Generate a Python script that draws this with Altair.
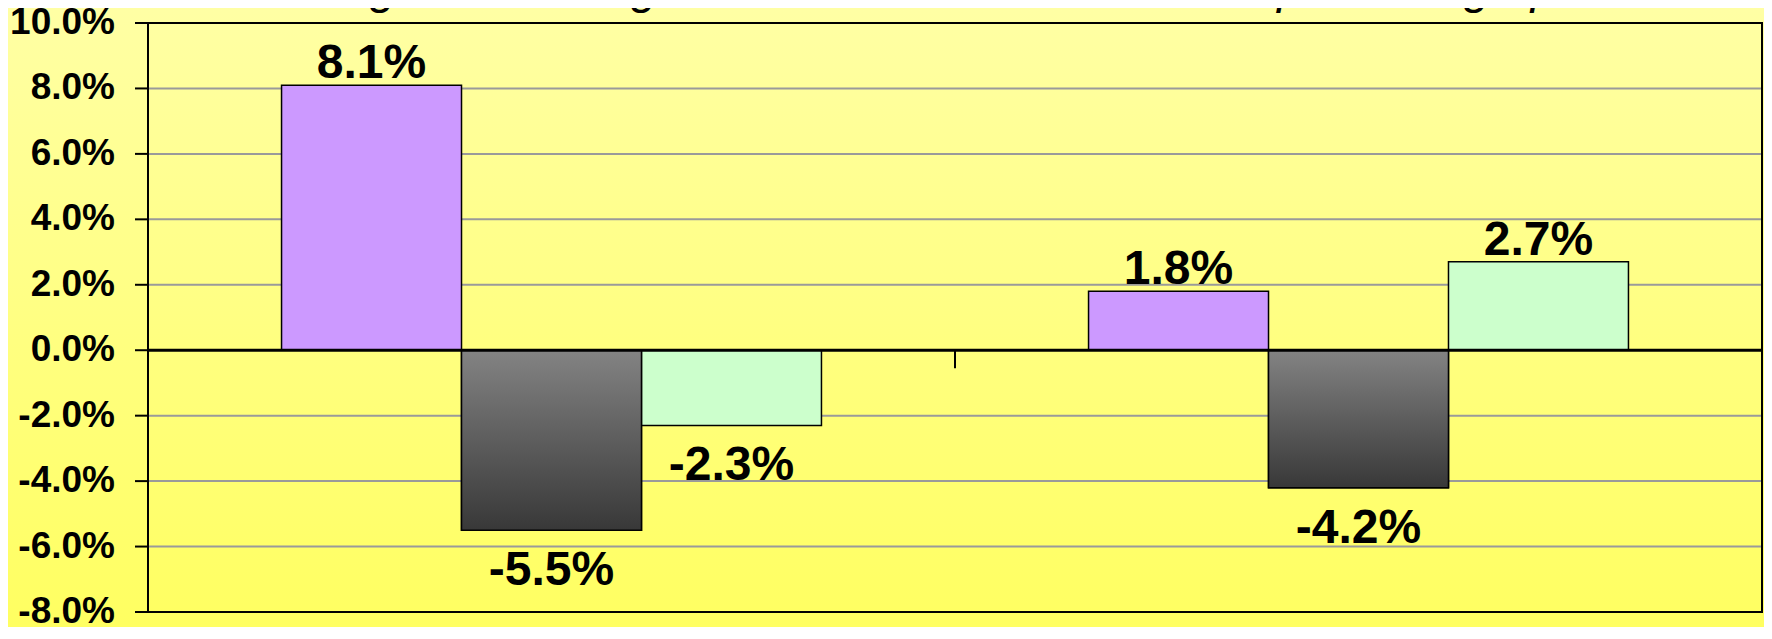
import altair as alt
import pandas as pd

# ---------------- data ----------------
categories = ["Group A", "Group B"]
series = ["Series 1", "Series 2", "Series 3"]
values_group_a = [0.081, -0.055, -0.023]
values_group_b = [0.018, -0.042, 0.027]
y_ticks = [-0.08, -0.06, -0.04, -0.02, 0.0, 0.02, 0.04, 0.06, 0.08, 0.10]
grid_ticks = [-0.06, -0.04, -0.02, 0.02, 0.04, 0.06, 0.08]
series_colors = ["#CC99FF", "#5A5A5A", "#CCFFCC"]
title_text = "Change in coverage between 2000 and 2010 in percentage points"

rows = []
for cat, vals in zip(categories, [values_group_a, values_group_b]):
    for s, v in zip(series, vals):
        rows.append({"category": cat, "series": s, "value": v})
df = pd.DataFrame(rows)
ticks_df = pd.DataFrame({"tick": y_ticks})
zero_df = pd.DataFrame({"tick": [t for t in y_ticks if t == 0]})
cat_df = pd.DataFrame({"category": categories, "tick": [0.0] * len(categories)})

# ---------------- layout ----------------
W, H = 1614, 589
Y_MIN, Y_MAX = y_ticks[0], y_ticks[-1]
FONT = "Liberation Sans"
HYPHEN_LABEL = "replace(format(datum.{f}, '.1%'), '\u2212', '-')"

y_scale = alt.Scale(domain=[Y_MIN, Y_MAX], nice=False)
x_scale = alt.Scale(domain=categories, paddingInner=0, paddingOuter=0)
xo_scale = alt.Scale(domain=series, paddingInner=0, paddingOuter=0.742)

x_enc = alt.X("category:N", scale=x_scale, axis=None, sort=categories)
xo_enc = alt.XOffset("series:N", scale=xo_scale, sort=series)
y_val = alt.Y("value:Q", scale=y_scale, axis=None)
y_tick = alt.Y("tick:Q", scale=y_scale, axis=None)

one = pd.DataFrame({"k": [0]})

bg_gradient = alt.Gradient(
    gradient="linear",
    stops=[alt.GradientStop(color="#FFFFA6", offset=0),
           alt.GradientStop(color="#FFFF5E", offset=1)],
    x1=0, x2=0, y1=0, y2=1,
)
dark_gradient = alt.Gradient(
    gradient="linear",
    stops=[alt.GradientStop(color="#838383", offset=0),
           alt.GradientStop(color="#383838", offset=1)],
    x1=0, x2=0, y1=0, y2=1,
)

background = alt.Chart(one).mark_rect(fill=bg_gradient).encode(
    x=alt.value(-150), x2=alt.value(W + 20),
    y=alt.value(-30), y2=alt.value(H + 40),
)

grid = alt.Chart(pd.DataFrame({"tick": grid_ticks})).mark_rule(
    color="#9A9A9A", strokeWidth=2
).encode(y=y_tick)

bars = alt.Chart(df).mark_bar(stroke="black", strokeWidth=1.5).encode(
    x=x_enc,
    xOffset=xo_enc,
    y=y_val,
    color=alt.Color("series:N", scale=alt.Scale(domain=series, range=series_colors), legend=None),
)

dark = alt.Chart(df).transform_filter(
    alt.datum.series == series[1]
).mark_bar(fill=dark_gradient, stroke="black", strokeWidth=1.5).encode(
    x=x_enc, xOffset=xo_enc, y=y_val,
)

# category axis drawn at zero
zero_line = alt.Chart(zero_df).mark_rule(color="black", strokeWidth=3).encode(y=y_tick)

cat_ticks = alt.Chart(cat_df).mark_rule(color="black", strokeWidth=2, y2Offset=18).encode(
    x=alt.X("category:N", scale=x_scale, axis=None, sort=categories, bandPosition=0),
    y=y_tick, y2="tick:Q",
)
end_tick = alt.Chart(zero_df).mark_rule(color="black", strokeWidth=2, y2Offset=18).encode(
    x=alt.value(W), y=y_tick, y2="tick:Q",
)

# value axis
y_tickmarks = alt.Chart(ticks_df).mark_rule(color="black", strokeWidth=2).encode(
    x=alt.value(-13), x2=alt.value(0), y=y_tick,
)
y_labels = alt.Chart(ticks_df).transform_calculate(
    label=HYPHEN_LABEL.format(f="tick")
).mark_text(
    font=FONT, fontSize=37, fontWeight="bold", color="black",
    align="right", baseline="middle",
).encode(x=alt.value(-33), y=y_tick, text="label:N")

label_common = dict(font=FONT, fontSize=48, fontWeight="bold", color="black",
                    align="center", baseline="alphabetic")

labels_pos = alt.Chart(df).transform_filter(alt.datum.value >= 0).transform_calculate(
    label=HYPHEN_LABEL.format(f="value")
).mark_text(dy=-7, **label_common).encode(
    x=x_enc, xOffset=xo_enc, y=y_val, text="label:N",
)

labels_neg = alt.Chart(df).transform_filter(alt.datum.value < 0).transform_calculate(
    label=HYPHEN_LABEL.format(f="value")
).mark_text(dy=55, **label_common).encode(
    x=x_enc, xOffset=xo_enc, y=y_val, text="label:N",
)

border = alt.Chart(one).mark_rect(
    fill="white", fillOpacity=0, stroke="black", strokeWidth=2
).encode(
    x=alt.value(0), x2=alt.value(W), y=alt.value(0), y2=alt.value(H),
)

title = alt.Chart(pd.DataFrame({"t": [title_text]})).mark_text(
    font=FONT, fontSize=48, fontStyle="italic", color="black",
    align="center", baseline="alphabetic",
).encode(
    x=alt.value(W / 2 + 2), y=alt.value(-20), text="t:N",
)

chart = alt.layer(
    background, grid, bars, dark, zero_line, cat_ticks, end_tick,
    y_tickmarks, y_labels, labels_pos, labels_neg, border, title
).properties(
    width=W, height=H,
    autosize=alt.AutoSizeParams(type="none"),
    padding={"left": 140, "top": 15, "right": 2, "bottom": 15},
    background="#FFFF80",
).configure_view(strokeWidth=0)

chart.save("out.html", embed_options={"renderer": "svg", "actions": False})
